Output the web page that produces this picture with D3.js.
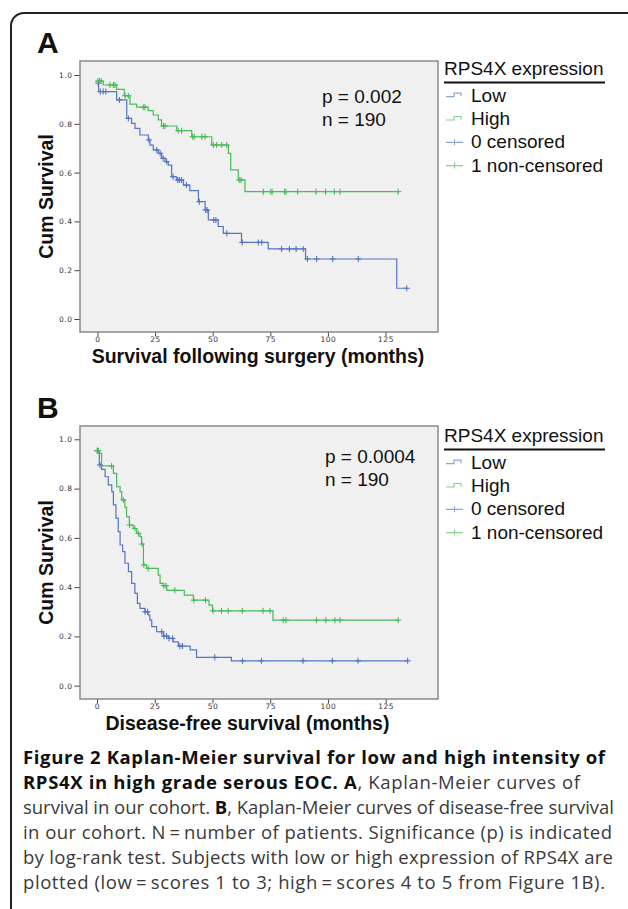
<!DOCTYPE html>
<html>
<head>
<meta charset="utf-8">
<script src="https://cdn.jsdelivr.net/npm/d3@7"></script>
<style>
  body { margin: 0; background: #fff; }
  svg { display: block; }
  .tick text { font-family: "DejaVu Sans", sans-serif; font-size: 7.5px; fill: #333; letter-spacing: 0.5px; }
  .tick line { stroke: #444; }
</style>
</head>
<body>
<div id="chart"></div>
<script>
// x axis ticks (months)
var monthTicks = [0, 25, 50, 75, 100, 125];
var survTicks = [0, 0.2, 0.4, 0.6, 0.8, 1.0];

// Panel A: overall survival. steps are [month, survival after the step]
var lowStepsA = [[0, 0.966], [0.5, 0.932], [8.3, 0.898], [12.7, 0.822], [14.8, 0.802], [16.3, 0.781],
  [18.4, 0.754], [22.1, 0.734], [22.8, 0.713], [24.2, 0.693], [26.4, 0.679], [27.8, 0.659],
  [29.3, 0.645], [30.7, 0.631], [32.2, 0.583], [34.4, 0.570], [37.3, 0.549], [40.1, 0.526],
  [43.8, 0.481], [46.7, 0.447], [48.1, 0.406], [52.4, 0.379], [54.6, 0.351], [62.5, 0.314],
  [74.1, 0.287], [90.3, 0.246], [129.9, 0.126]];
var lowEndA = 134.2;
var lowCensA = [0.3, 1.2, 2.5, 3.6, 9.5, 13.4, 22.3, 25.7, 27.2, 28.5, 30, 32.8, 34.8, 35.5, 36.4,
  38.6, 44.2, 46.9, 47.6, 50.5, 51.4, 56.1, 62.8, 69.8, 71.3, 79.9, 83.3, 86.2, 89.3, 91.1,
  95.1, 102.1, 113.2, 134.2];

var highStepsA = [[0, 0.975], [2.5, 0.959], [8.3, 0.941], [11.6, 0.915], [14.1, 0.881], [17, 0.868],
  [22, 0.854], [24.2, 0.836], [26.4, 0.816], [27.8, 0.791], [34.4, 0.772], [40.9, 0.747],
  [49.6, 0.713], [56.8, 0.679], [57.8, 0.611], [61.1, 0.570], [64, 0.522]];
var highEndA = 130.5;
var highCensA = [0.2, 0.8, 1.6, 5.4, 6.9, 7.6, 12, 13.4, 19.9, 20.6, 28.6, 29.3, 35, 36.5, 41.3,
  42, 45.3, 46.7, 50.3, 51.7, 53.9, 56.1, 61.5, 62.3, 72, 75.2, 75.8, 81.2, 81.8, 86.9, 94.8,
  99, 102.8, 105.2, 130.5];

// Panel B: disease-free survival
var lowStepsB = [[0, 0.954], [1.0, 0.896], [2.0, 0.878], [3.5, 0.848], [4.9, 0.815], [6.4, 0.788],
  [7.1, 0.734], [8.2, 0.680], [9.2, 0.625], [10.0, 0.571], [11.1, 0.544], [12.1, 0.497],
  [13.6, 0.463], [15.0, 0.415], [16.4, 0.375], [17.5, 0.334], [18.6, 0.314], [20.8, 0.300],
  [22.2, 0.287], [22.9, 0.266], [23.7, 0.240], [25.8, 0.219], [28.7, 0.201], [30.9, 0.192],
  [33.0, 0.178], [35.2, 0.161], [40.3, 0.145], [43.1, 0.115], [58.2, 0.101]];
var lowEndB = 134.5;
var lowCensB = [0.2, 1.3, 20.8, 21.9, 28, 29, 30.1, 31.2, 32.7, 35.9, 37, 51, 63, 71.2, 89.2,
  101.9, 113, 134.5];

var highStepsB = [[0, 0.954], [0.8, 0.943], [2.0, 0.892], [7.1, 0.862], [8.5, 0.808], [10.0, 0.788],
  [10.7, 0.754], [12.1, 0.724], [12.8, 0.686], [14.0, 0.652], [15.7, 0.638], [17.2, 0.618],
  [18.6, 0.605], [19.3, 0.575], [20.1, 0.490], [21.5, 0.476], [26.5, 0.449], [27.3, 0.415],
  [28.7, 0.406], [30.2, 0.387], [37.8, 0.368], [41.7, 0.347], [48.5, 0.327], [50.0, 0.304],
  [76.2, 0.266]];
var highEndB = 130.4;
var highCensB = [0.1, 0.6, 6.3, 11.4, 14.1, 16.4, 17.9, 19.5, 20.3, 22.2, 28.9, 29.9, 33.7, 41.9,
  47, 50.2, 53.9, 56.8, 62.9, 71.9, 74.9, 80.6, 81.8, 95, 99.1, 103, 105.2, 130.4];

var legendLabels = ["Low", "High", "0 censored", "1 non-censored"];
var captionLines = [
  [["Figure 2 Kaplan-Meier survival for low and high intensity of", true]],
  [["RPS4X in high grade serous EOC. A", true], [", Kaplan-Meier curves of", false]],
  [["survival in our cohort. ", false], ["B", true], [", Kaplan-Meier curves of disease-free survival", false]],
  [["in our cohort. N\u2009=\u2009number of patients. Significance (p) is indicated", false]],
  [["by log-rank test. Subjects with low or high expression of RPS4X are", false]],
  [["plotted (low\u2009=\u2009scores 1 to 3; high\u2009=\u2009scores 4 to 5 from Figure 1B).", false]]
];
// right edge of each caption line in the original
var captionEnds = [605, 580, 614, 612, 613, 605];

var blue = "#5474c4";
var green = "#48bb58";
var sans = "'Liberation Sans', Arial, sans-serif";

var svg = d3.select("#chart").append("svg")
    .attr("width", 628)
    .attr("height", 909);

// outer rounded box (runs off the right and bottom edge)
svg.append("rect")
    .attr("x", 11).attr("y", 13)
    .attr("width", 631).attr("height", 1000)
    .attr("rx", 13)
    .attr("fill", "none")
    .attr("stroke", "#222")
    .attr("stroke-width", 2);

var panels = [
  {letter: "A", top: 61, bottom: 332, y1: 75, y0: 319, x0: 97.5, x125: 385.5,
   xlabel: "Survival following surgery (months)", xlabelX: 258, xlabelY: 363,
   p: "p = 0.002", pX: 322, pY: 103, legY: 75,
   curves: [[lowStepsA, lowEndA, lowCensA, blue], [highStepsA, highEndA, highCensA, green]]},
  {letter: "B", top: 426, bottom: 699, y1: 439.3, y0: 685.7, x0: 97, x125: 385.7,
   xlabel: "Disease-free survival (months)", xlabelX: 247.5, xlabelY: 730,
   p: "p = 0.0004", pX: 325, pY: 463, legY: 442,
   curves: [[lowStepsB, lowEndB, lowCensB, blue], [highStepsB, highEndB, highCensB, green]]}
];

function survAt(steps, t) {
  var s = steps[0][1];
  steps.forEach(function(d) { if (d[0] <= t) s = d[1]; });
  return s;
}

panels.forEach(function(p) {
  var x = d3.scaleLinear().domain([0, 125]).range([p.x0, p.x125]);
  var y = d3.scaleLinear().domain([0, 1]).range([p.y0, p.y1]);
  var g = svg.append("g");

  g.append("rect")
      .attr("x", 80).attr("y", p.top)
      .attr("width", 358).attr("height", p.bottom - p.top)
      .attr("fill", "#f0f0f0")
      .attr("stroke", "#8a8a8a")
      .attr("stroke-width", 1.5);

  g.append("g")
      .attr("transform", "translate(79.5,0)")
      .call(d3.axisLeft(y).tickValues(survTicks).tickSize(5).tickPadding(2).tickFormat(d3.format(".1f")))
      .call(function(a) { a.select(".domain").remove(); });

  g.append("g")
      .attr("transform", "translate(0," + (p.bottom + 0.5) + ")")
      .call(d3.axisBottom(x).tickValues(monthTicks).tickSize(4).tickPadding(0))
      .call(function(a) { a.select(".domain").remove(); });

  var line = d3.line()
      .x(function(d) { return x(d[0]); })
      .y(function(d) { return y(d[1]); })
      .curve(d3.curveStepAfter);

  p.curves.forEach(function(c) {
    var steps = c[0], end = c[1], cens = c[2], col = c[3];
    var pts = steps.concat([[end, steps[steps.length - 1][1]]]);
    g.append("path")
        .datum(pts)
        .attr("d", line)
        .attr("fill", "none")
        .attr("stroke", col)
        .attr("stroke-width", 1.2);

    var marks = g.append("g").selectAll("g")
        .data(cens)
        .enter().append("g")
        .attr("transform", function(t) { return "translate(" + x(t) + "," + y(survAt(steps, t)) + ")"; })
        .attr("stroke", col)
        .attr("stroke-width", 1.1);
    marks.append("line").attr("x1", -3).attr("x2", 3);
    marks.append("line").attr("y1", -3).attr("y2", 3);
  });

  // panel letter
  svg.append("text")
      .attr("x", 37).attr("y", p.top - 8)
      .attr("font-family", sans).attr("font-weight", "bold")
      .attr("font-size", 30).attr("fill", "#111")
      .text(p.letter);

  svg.append("text")
      .attr("transform", "translate(53," + ((p.top + p.bottom) / 2) + ") rotate(-90)")
      .attr("text-anchor", "middle")
      .attr("font-family", sans).attr("font-weight", "bold")
      .attr("font-size", 19.5).attr("fill", "#111")
      .text("Cum Survival");

  svg.append("text")
      .attr("x", p.xlabelX).attr("y", p.xlabelY)
      .attr("text-anchor", "middle")
      .attr("font-family", sans).attr("font-weight", "bold")
      .attr("font-size", 19.5).attr("fill", "#111")
      .text(p.xlabel);

  svg.append("text")
      .attr("x", p.pX).attr("y", p.pY)
      .attr("font-family", sans).attr("font-size", 19).attr("fill", "#111")
      .text(p.p);
  svg.append("text")
      .attr("x", p.pX).attr("y", p.pY + 22.5)
      .attr("font-family", sans).attr("font-size", 19).attr("fill", "#111")
      .text("n = 190");

  // legend
  var lg = svg.append("g").attr("transform", "translate(444," + p.legY + ")");
  lg.append("text")
      .attr("font-family", sans).attr("font-size", 19).attr("fill", "#111")
      .text("RPS4X expression");
  lg.append("line")
      .attr("x1", 0).attr("x2", 161)
      .attr("y1", 7.5).attr("y2", 7.5)
      .attr("stroke", "#111").attr("stroke-width", 2);

  var items = lg.selectAll(".item")
      .data(legendLabels)
      .enter().append("g")
      .attr("class", "item")
      .attr("transform", function(d, i) { return "translate(0," + (26.7 + 23.3 * i) + ")"; });

  items.append("text")
      .attr("x", 27)
      .attr("font-family", sans).attr("font-size", 19).attr("fill", "#111")
      .text(function(d) { return d; });

  items.each(function(d, i) {
    var it = d3.select(this);
    var col = (i % 2 === 0) ? "#8ea3dc" : "#84d48f";
    if (i < 2) {
      it.append("path")
          .attr("d", "M2,-5 H10 V-8.5 H17 V-5.5")
          .attr("fill", "none").attr("stroke", col).attr("stroke-width", 1.2);
    } else {
      it.append("path")
          .attr("d", "M2,-6 H19 M10.5,-9 V-3")
          .attr("fill", "none").attr("stroke", col).attr("stroke-width", 1.2);
    }
  });
});

// caption, spread to the same line ends as the original
var cap = svg.append("g")
    .attr("font-family", "'Open Sans', sans-serif")
    .attr("font-size", 18.5)
    .attr("fill", "#222");
captionLines.forEach(function(parts, i) {
  var t = cap.append("text").attr("x", 23).attr("y", 764 + 25 * i);
  var n = 0;
  parts.forEach(function(pt) {
    n += pt[0].length;
    t.append("tspan")
        .attr("font-weight", pt[1] ? "bold" : "normal")
        .attr("fill", pt[1] ? "#111" : "#3a3a3a")
        .text(pt[0]);
  });
  var w = t.node().getComputedTextLength();
  var extra = (captionEnds[i] - 23 - w) / (n - 1);
  t.selectAll("tspan").attr("letter-spacing", extra.toFixed(3) + "px");
});
</script>
</body>
</html>
